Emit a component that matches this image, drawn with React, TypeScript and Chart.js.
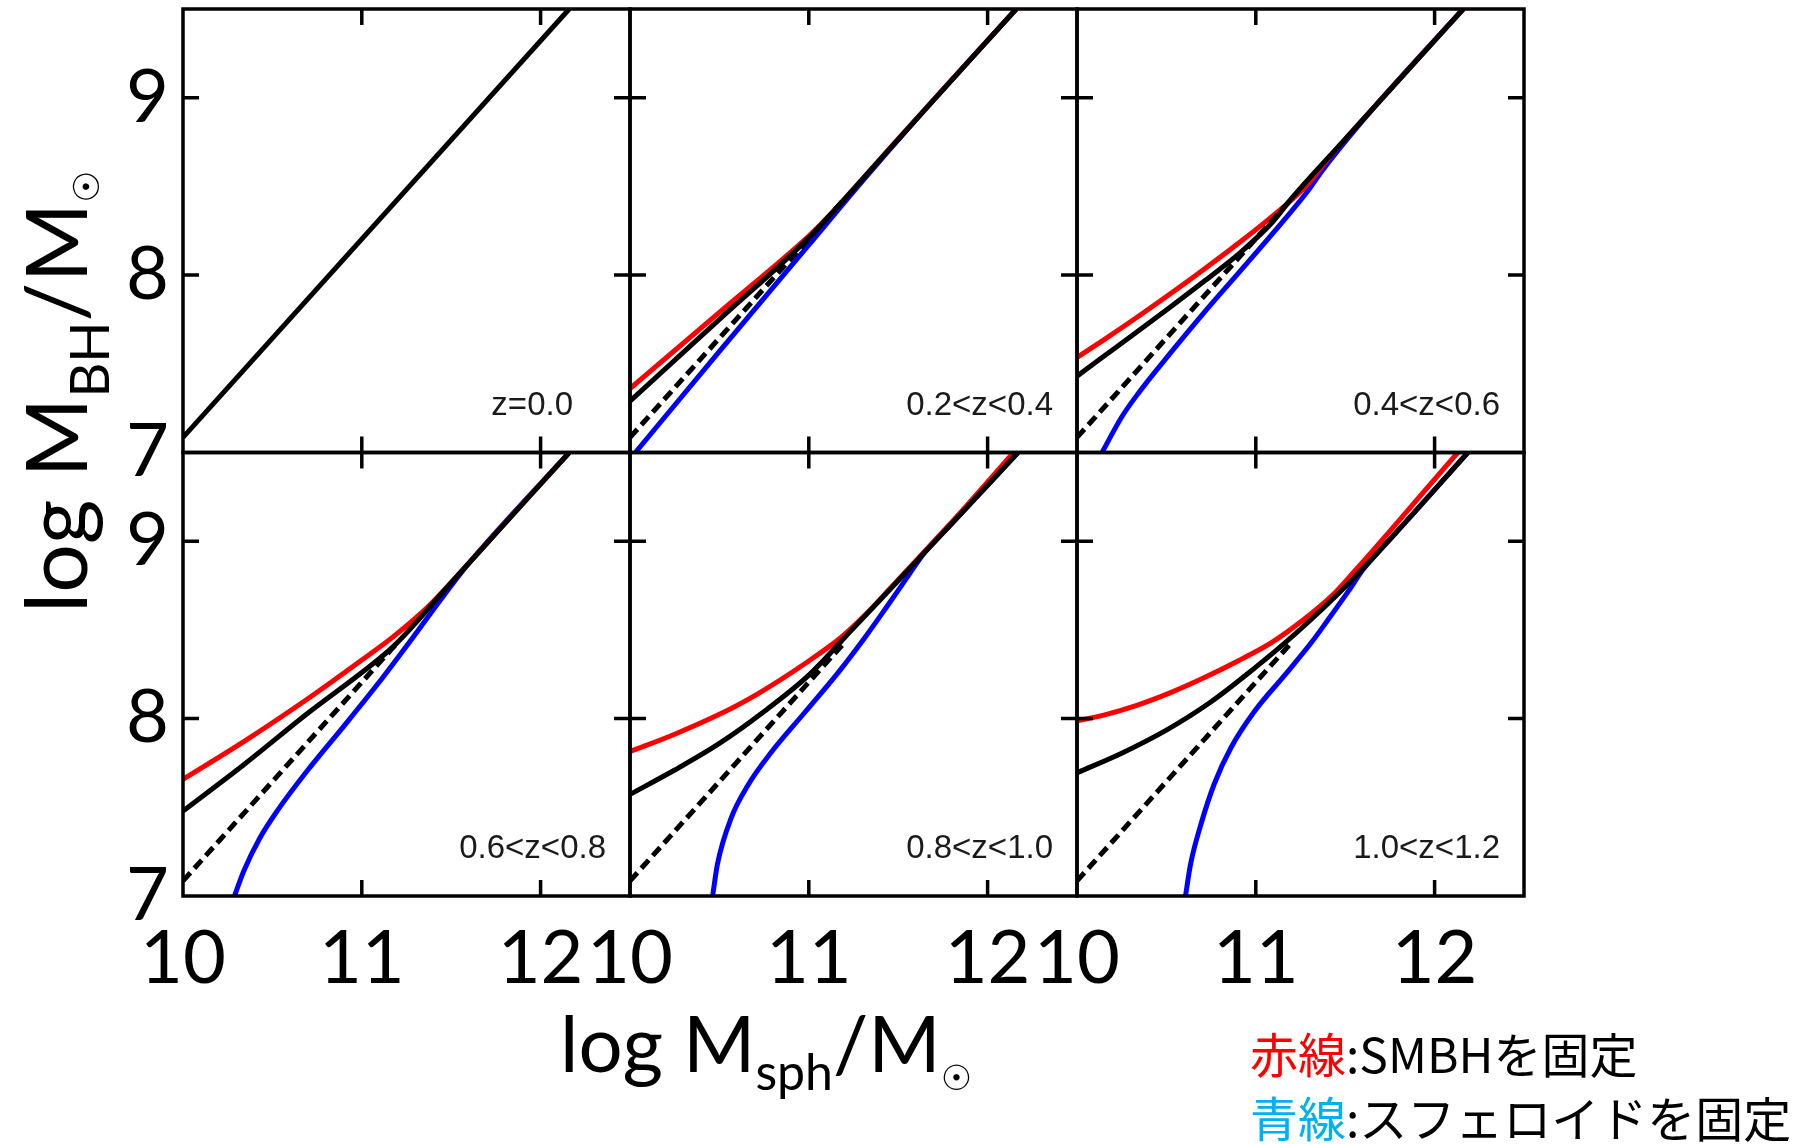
import React, { useEffect, useRef } from 'react';
import { Chart, registerables } from 'chart.js';

Chart.register(...registerables);

type Pt = [number, number];

// ---- axes ----
const X_MIN = 10;
const X_MAX = 12.5;
const Y_MIN = 7;
const Y_MAX = 9.5;
const TICK_STEP = 0.5;
const X_TICK_LABELS = [10, 11, 12];
const Y_TICK_LABELS = [7, 8, 9];

const PANEL_LABELS = ['z=0.0', '0.2<z<0.4', '0.4<z<0.6', '0.6<z<0.8', '0.8<z<1.0', '1.0<z<1.2'];

// ---- local (z=0) relation, shown dashed in the z>0 panels ----
const LOCAL_DASHED: Pt[] = [[10, 7.085], [11.2, 8.429]];

// ---- z = 0.0 ----
const Z00_BLACK: Pt[] = [[10, 7.085], [12.16, 9.5]];

// ---- 0.2 < z < 0.4 ----
const Z02_BLACK: Pt[] = [[10, 7.29], [10.5, 7.75], [11.0, 8.21], [11.1, 8.317], [11.5, 8.765], [12.16, 9.5]];
const Z02_RED: Pt[] = [[10, 7.36], [10.5, 7.79], [11.0, 8.22], [11.1, 8.32], [11.5, 8.768], [12.16, 9.5]];
const Z02_BLUE: Pt[] = [[10.03, 7.0], [10.5, 7.57], [11.0, 8.17], [11.3, 8.53], [11.6, 8.877], [12.16, 9.5]];

// ---- 0.4 < z < 0.6 ----
const Z04_BLACK: Pt[] = [[10, 7.43], [10.15, 7.542], [10.34, 7.683], [10.53, 7.826], [10.72, 7.972], [10.91, 8.124], [11.09, 8.295], [11.2, 8.432], [11.5, 8.766], [12.16, 9.5]];
const Z04_RED: Pt[] = [[10, 7.536], [10.15, 7.635], [10.34, 7.765], [10.53, 7.9], [10.72, 8.04], [10.91, 8.185], [11.09, 8.33], [11.28, 8.5], [11.4, 8.65], [11.7, 8.99], [12.16, 9.5]];
const Z04_BLUE: Pt[] = [[10.14, 7.0], [10.25, 7.2], [10.34, 7.33], [10.53, 7.57], [10.72, 7.8], [10.91, 8.02], [11.09, 8.23], [11.28, 8.46], [11.38, 8.6], [11.7, 8.99], [12.16, 9.5]];

// ---- 0.6 < z < 0.8 ----
const Z06_BLACK: Pt[] = [[10, 7.479], [10.34, 7.74], [10.71, 8.04], [11.0, 8.26], [11.18, 8.41], [11.5, 8.766], [12.16, 9.5]];
const Z06_RED: Pt[] = [[10, 7.658], [10.34, 7.87], [10.71, 8.12], [11.0, 8.33], [11.18, 8.465], [11.37, 8.63], [11.5, 8.768], [11.8, 9.101], [12.16, 9.5]];
const Z06_BLUE: Pt[] = [[10.288, 7.0], [10.34, 7.141], [10.43, 7.327], [10.53, 7.484], [10.71, 7.725], [10.9, 7.958], [11.09, 8.196], [11.28, 8.449], [11.46, 8.695], [11.6, 8.877], [12.16, 9.5]];

// ---- 0.8 < z < 1.0 ----
const Z08_BLACK: Pt[] = [[10, 7.573], [10.25, 7.71], [10.5, 7.86], [10.75, 8.04], [11.0, 8.245], [11.25, 8.51], [11.4, 8.67], [11.8, 9.1], [12.17, 9.5]];
const Z08_RED: Pt[] = [[10, 7.814], [10.25, 7.912], [10.5, 8.024], [10.71, 8.137], [11.0, 8.325], [11.18, 8.457], [11.31, 8.579], [11.46, 8.739], [11.65, 8.945], [11.84, 9.152], [12.145, 9.5]];
const Z08_BLUE: Pt[] = [[10.462, 7.0], [10.49, 7.184], [10.565, 7.438], [10.658, 7.622], [10.79, 7.81], [10.976, 8.033], [11.163, 8.258], [11.313, 8.456], [11.444, 8.642], [11.55, 8.796], [11.65, 8.94], [11.8, 9.1], [12.17, 9.5]];

// ---- 1.0 < z < 1.2 ----
const Z10_BLACK: Pt[] = [[10, 7.695], [10.25, 7.805], [10.5, 7.935], [10.75, 8.095], [11.0, 8.29], [11.15, 8.415], [11.3, 8.55], [11.556, 8.8], [11.84, 9.11], [12.186, 9.5]];
const Z10_RED: Pt[] = [[10, 7.987], [10.15, 8.02], [10.335, 8.075], [10.52, 8.145], [10.71, 8.23], [10.9, 8.325], [11.09, 8.43], [11.27, 8.56], [11.425, 8.692], [11.556, 8.835], [11.744, 9.05], [11.932, 9.27], [12.13, 9.5]];
const Z10_BLUE: Pt[] = [[10.607, 7.0], [10.635, 7.179], [10.692, 7.4], [10.767, 7.63], [10.861, 7.836], [10.992, 8.04], [11.162, 8.245], [11.312, 8.43], [11.406, 8.56], [11.519, 8.72], [11.6, 8.84], [11.84, 9.11], [12.186, 9.5]];

type Panel = { black: Pt[]; dashed: Pt[] | null; red: Pt[] | null; blue: Pt[] | null };

const PANELS: Panel[] = [
  { black: Z00_BLACK, dashed: null, red: null, blue: null },
  { black: Z02_BLACK, dashed: LOCAL_DASHED, red: Z02_RED, blue: Z02_BLUE },
  { black: Z04_BLACK, dashed: LOCAL_DASHED, red: Z04_RED, blue: Z04_BLUE },
  { black: Z06_BLACK, dashed: LOCAL_DASHED, red: Z06_RED, blue: Z06_BLUE },
  { black: Z08_BLACK, dashed: LOCAL_DASHED, red: Z08_RED, blue: Z08_BLUE },
  { black: Z10_BLACK, dashed: LOCAL_DASHED, red: Z10_RED, blue: Z10_BLUE },
];

// ---- styling ----
const COL_AXES = ['x0', 'x1', 'x2'];
const ROW_AXES = ['yTop', 'yBottom'];
const LABEL_RIGHT_PAD = [57, 24, 24, 24, 24, 24];
const TICK_LEN = 16;
const CURVE_WIDTH = 5;

const isLabelled = (v: number, list: number[]) =>
  Math.abs(v - Math.round(v)) < 1e-6 && list.includes(Math.round(v));

const zeroPad = (s: any) => {
  s.paddingLeft = 0;
  s.paddingRight = 0;
  s.paddingTop = 0;
  s.paddingBottom = 0;
};

const tickFont = { family: 'Lato', size: 74 };

function xScale() {
  return {
    type: 'linear',
    axis: 'x',
    position: 'bottom',
    stack: 'cols',
    stackWeight: 1,
    min: X_MIN,
    max: X_MAX,
    grid: { display: false, drawTicks: false },
    border: { display: false },
    ticks: {
      stepSize: TICK_STEP,
      autoSkip: false,
      maxRotation: 0,
      minRotation: 0,
      padding: 19,
      color: '#000',
      font: tickFont,
      callback: (v: number) => (isLabelled(v, X_TICK_LABELS) ? String(Math.round(v)) : null),
    },
    afterFit: (s: any) => {
      s.height = 248;
      zeroPad(s);
    },
  };
}

function yScale() {
  return {
    type: 'linear',
    axis: 'y',
    position: 'left',
    stack: 'rows',
    stackWeight: 1,
    min: Y_MIN,
    max: Y_MAX,
    grid: { display: false, drawTicks: false },
    border: { display: false },
    ticks: {
      stepSize: TICK_STEP,
      autoSkip: false,
      padding: 14,
      color: '#000',
      font: tickFont,
      callback: (v: number) => (isLabelled(v, Y_TICK_LABELS) ? String(Math.round(v)) : null),
    },
    afterFit: (s: any) => {
      s.width = 183;
      zeroPad(s);
    },
  };
}

const panelPlugin = {
  id: 'panelFrames',
  afterDatasetsDraw(chart: any) {
    const ctx = chart.ctx as CanvasRenderingContext2D;
    ctx.save();
    for (let r = 0; r < 2; r++) {
      for (let c = 0; c < 3; c++) {
        const xs = chart.scales[COL_AXES[c]];
        const ys = chart.scales[ROW_AXES[r]];
        const L = xs.left, R = xs.right, T = ys.top, B = ys.bottom;
        ctx.strokeStyle = '#000';
        ctx.lineWidth = 3.5;
        ctx.strokeRect(L, T, R - L, B - T);
        ctx.beginPath();
        xs.ticks.forEach((t: any) => {
          if (t.value <= xs.min + 1e-9 || t.value >= xs.max - 1e-9) return;
          const px = xs.getPixelForValue(t.value);
          ctx.moveTo(px, B);
          ctx.lineTo(px, B - TICK_LEN);
          ctx.moveTo(px, T);
          ctx.lineTo(px, T + TICK_LEN);
        });
        ys.ticks.forEach((t: any) => {
          if (t.value <= ys.min + 1e-9 || t.value >= ys.max - 1e-9) return;
          const py = ys.getPixelForValue(t.value);
          ctx.moveTo(L, py);
          ctx.lineTo(L + TICK_LEN, py);
          ctx.moveTo(R, py);
          ctx.lineTo(R - TICK_LEN, py);
        });
        ctx.stroke();
        const i = r * 3 + c;
        ctx.font = '33px "Liberation Sans", Arial, sans-serif';
        ctx.fillStyle = '#1a1a1a';
        ctx.textAlign = 'right';
        ctx.textBaseline = 'middle';
        ctx.fillText(PANEL_LABELS[i], R - LABEL_RIGHT_PAD[i], B - 47);
      }
    }
    ctx.restore();
  },
};

function buildDatasets() {
  const out: any[] = [];
  PANELS.forEach((p, i) => {
    const xAxisID = COL_AXES[i % 3];
    const yAxisID = ROW_AXES[Math.floor(i / 3)];
    const add = (pts: Pt[] | null, color: string, dash: number[]) => {
      if (!pts) return;
      out.push({
        data: pts.map(([x, y]) => ({ x, y })),
        borderColor: color,
        backgroundColor: color,
        borderWidth: CURVE_WIDTH,
        borderDash: dash,
        pointRadius: 0,
        fill: false,
        cubicInterpolationMode: 'monotone',
        xAxisID,
        yAxisID,
      });
    };
    add(p.black, '#000000', []);
    add(p.dashed, '#000000', [11, 6]);
    add(p.red, '#ff0000', []);
    add(p.blue, '#0000ff', []);
  });
  return out;
}

export default function App() {
  const ref = useRef<HTMLCanvasElement | null>(null);

  useEffect(() => {
    if (!ref.current) return;
    const chart = new Chart(ref.current, {
      type: 'line',
      data: { datasets: buildDatasets() },
      options: {
        animation: false,
        responsive: false,
        events: [],
        layout: { padding: { top: 9, right: 285, left: 0, bottom: 0 } },
        plugins: { legend: { display: false }, tooltip: { enabled: false } },
        scales: {
          x0: xScale(),
          x1: xScale(),
          x2: xScale(),
          yBottom: yScale(),
          yTop: yScale(),
        },
      } as any,
      plugins: [panelPlugin],
    } as any);
    return () => chart.destroy();
  }, []);

  return (
    <div style={{ position: 'absolute', left: 0, top: 0, width: 1809, height: 1144, background: '#fff', overflow: 'hidden' }}>
      <canvas ref={ref} width={1809} height={1144} style={{ position: 'absolute', left: 0, top: 0 }} />
      {/* y-axis title */}
      <div
        style={{
          position: 'absolute',
          left: 11,
          top: 613,
          transformOrigin: '0 0',
          transform: 'rotate(-90deg)',
          whiteSpace: 'nowrap',
          fontFamily: 'Lato',
          fontSize: 86,
          lineHeight: '86px',
          color: '#000',
        }}
      >
        log M<span style={{ fontSize: 54, verticalAlign: -22 }}>BH</span>/M
        <span style={{ fontFamily: '"DejaVu Sans"', fontSize: 36, verticalAlign: -12 }}>☉</span>
      </div>
      {/* x-axis title */}
      <div
        style={{
          position: 'absolute',
          left: 560,
          top: 1003,
          whiteSpace: 'nowrap',
          fontFamily: 'Lato',
          fontSize: 78,
          lineHeight: '78px',
          color: '#000',
        }}
      >
        log M<span style={{ fontSize: 50, verticalAlign: -18 }}>sph</span>/M
        <span style={{ fontFamily: '"DejaVu Sans"', fontSize: 35, verticalAlign: -18 }}>☉</span>
      </div>
      {/* legend */}
      <div
        style={{
          position: 'absolute',
          left: 1250,
          top: 1020,
          whiteSpace: 'nowrap',
          fontFamily: '"Noto Sans CJK JP"',
          fontSize: 48,
          lineHeight: '64px',
          color: '#000',
        }}
      >
        <div>
          <span style={{ color: '#ff0000' }}>赤線</span>:SMBHを固定
        </div>
        <div>
          <span style={{ color: '#00b0f0' }}>青線</span>:スフェロイドを固定
        </div>
      </div>
    </div>
  );
}
